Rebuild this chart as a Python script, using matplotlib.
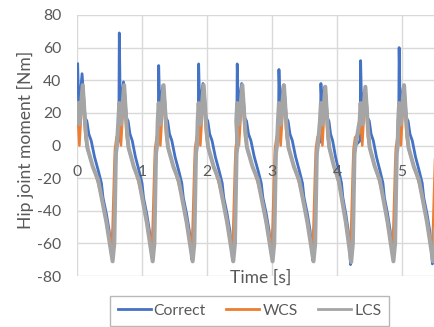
import numpy as np
import matplotlib
matplotlib.use("Agg")
import matplotlib.pyplot as plt
from matplotlib.lines import Line2D

plt.rcParams["font.family"] = ["Lato", "DejaVu Sans"]
plt.rcParams["axes.unicode_minus"] = False

# ---------------- values ----------------
series_names = ["Correct", "WCS", "LCS"]
colors = ["#4472C4", "#ED7D31", "#A5A5A5"]
y_ticks = [-80, -60, -40, -20, 0, 20, 40, 60, 80]
x_ticks = [0, 1, 2, 3, 4, 5]

# one stride per entry: time of the first spike and time of the minimum [s]
spike_t = [0.01, 0.651, 1.257, 1.872, 2.466, 3.108, 3.754, 4.365, 4.958]
min_t = [0.548, 1.165, 1.780, 2.405, 3.010, 3.640, 4.220, 4.870, 5.480]

correct_spike = [50, 69, 49, 50, 50, 46.6, 38, 52, 60]
correct_peak2 = [44, 39, 37, 38, 38, 37, 36, 34, 36]
correct_min = [-68.5, -69, -70, -70.5, -68, -70.5, -73, -69, -72.6]
wcs_peak = [35, 34, 34, 34, 34, 33, 34, 34, 34]
wcs_min = [-64, -64, -64, -64, -64, -64, -64, -62, -64]
lcs_peak = [37, 37, 37, 37, 37, 37, 36, 36, 37]
lcs_min = [-71, -71, -71, -71, -71, -71, -71.5, -71, -71]

# shape of the descent, as fraction of spike->min span
correct_frac = [0, 0.028, 0.066, 0.126, 0.17, 0.213, 0.264, 0.32, 0.387,
                0.483, 0.585, 0.68, 0.726, 0.823, 0.9, 0.95]
correct_shape = [None, 26, 28, None, 30, 17, 15, 7, 3,
                 -7, -15, -23, -32, -42, -52, -64]
wcs_frac = [0, 0.05, 0.145, 0.222, 0.29, 0.434, 0.585, 0.726, 0.84, 0.94]
wcs_shape = [19, 0, None, 5, -3, -13, -23, -36, -50, -63]
lcs_frac = [0, 0.05, 0.145, 0.222, 0.274, 0.434, 0.585, 0.696, 0.823, 0.919]
lcs_shape = [26, 13, None, 11, -1, -13, -21, -33, -47, -60]

# minimum + push-off rise, seconds after min_t (first value = stride minimum)
correct_rise_dt = [-0.01, 0.026, 0.051, 0.067]
correct_rise = [None, -40, -5, 0]
wcs_rise_dt = [-0.02, 0.0, 0.026, 0.036, 0.06]
wcs_rise = [None, -50, -13, -2, 5]
lcs_rise_dt = [0.0, 0.026, 0.051, 0.067]
lcs_rise = [None, -60, -5, 0]

# just before the next spike
correct_pre_dt, correct_pre = [-0.008], [3]
wcs_pre_dt, wcs_pre = [-0.01], [8]
lcs_pre_dt, lcs_pre = [-0.015], [15]


def build(frac, shape, peaks, rise_dt, rise, mins, pre_dt, pre):
    t, v = [], []
    for k in range(len(spike_t)):
        if k > 0:
            t += [spike_t[k] + d for d in pre_dt]; v += pre
        span = min_t[k] - spike_t[k]
        vals = list(shape)
        for idx, arr in peaks.items():
            vals[idx] = arr[k]
        t += [spike_t[k] + f * span for f in frac]; v += vals
        r = list(rise); r[0] = mins[k]
        t += [min_t[k] + d for d in rise_dt]; v += r
    return np.array(t), np.array(v)


correct = build(correct_frac, correct_shape, {0: correct_spike, 3: correct_peak2},
                correct_rise_dt, correct_rise, correct_min, correct_pre_dt, correct_pre)
wcs = build(wcs_frac, wcs_shape, {2: wcs_peak},
            wcs_rise_dt, wcs_rise, wcs_min, wcs_pre_dt, wcs_pre)
lcs = build(lcs_frac, lcs_shape, {2: lcs_peak},
            lcs_rise_dt, lcs_rise, lcs_min, lcs_pre_dt, lcs_pre)

# ---------------- plot ----------------
fig = plt.figure(figsize=(4.35, 3.27), dpi=100)
ax = fig.add_axes([77 / 435, 1 - 276 / 327, 1 - 77 / 435, (276 - 15) / 327])

widths = [2.0, 1.8, 2.9]
for (t, v), c, lw in zip([correct, wcs, lcs], colors, widths):
    ax.plot(t, v, color=c, lw=lw, solid_joinstyle="round", zorder=3)

ax.set_xlim(0, 5.51)
ax.set_ylim(-80, 80)
ax.set_yticks(y_ticks)
ax.set_xticks(x_ticks)
ax.grid(True, color="#d9d9d9", lw=1.0)
ax.set_axisbelow(True)
for s in ax.spines.values():
    s.set_visible(False)
ax.tick_params(length=0, labelsize=11.3, labelcolor="#595959", pad=11.5)
ax.set_xticklabels([])
for x in x_ticks:
    ax.annotate(str(x), (x, 0), xytext=(0, -20), textcoords="offset pixels",
                ha="center", va="top", fontsize=11.3, color="#595959")

fig.text(25 / 435, 1 - 140 / 327, "Hip joint moment [Nm]", rotation=90,
         ha="center", va="center", fontsize=12.6, color="#595959")
fig.text(261 / 435, 1 - 278 / 327, "Time [s]", ha="center", va="center",
         fontsize=12.6, color="#595959")

handles = [Line2D([], [], color=c, lw=2.0) for c in colors]
leg = fig.legend(handles, series_names, ncol=3, loc="upper center",
                 bbox_to_anchor=(249.5 / 435, 1 - 296 / 327), frameon=True,
                 fancybox=False, edgecolor="#a6a6a6", fontsize=11.3,
                 handlelength=2.1, handletextpad=0.2, columnspacing=1.3,
                 borderpad=0.5, borderaxespad=0)
leg.get_frame().set_linewidth(1.0)
for txt in leg.get_texts():
    txt.set_color("#595959")

fig.savefig("out.png", dpi=100)
